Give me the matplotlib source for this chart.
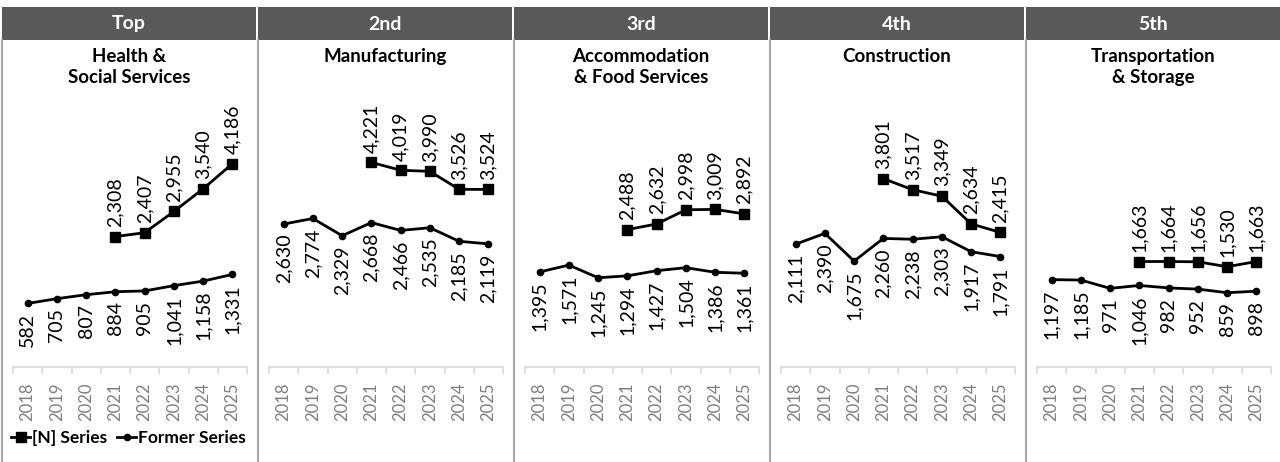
import numpy as np
import matplotlib.pyplot as plt
from matplotlib.patches import Rectangle
from matplotlib.lines import Line2D

plt.rcParams['font.family'] = ['Lato', 'DejaVu Sans']

years = ['2018', '2019', '2020', '2021', '2022', '2023', '2024', '2025']
ranks = ['Top', '2nd', '3rd', '4th', '5th']
industries = ['Health &\nSocial Services', 'Manufacturing', 'Accommodation\n& Food Services',
              'Construction', 'Transportation\n& Storage']

# former series, 2018-2025
former_health = [582, 705, 807, 884, 905, 1041, 1158, 1331]
former_manuf = [2630, 2774, 2329, 2668, 2466, 2535, 2185, 2119]
former_accom = [1395, 1571, 1245, 1294, 1427, 1504, 1386, 1361]
former_constr = [2111, 2390, 1675, 2260, 2238, 2303, 1917, 1791]
former_transp = [1197, 1185, 971, 1046, 982, 952, 859, 898]

# [N] series, 2021-2025
new_health = [2308, 2407, 2955, 3540, 4186]
new_manuf = [4221, 4019, 3990, 3526, 3524]
new_accom = [2488, 2632, 2998, 3009, 2892]
new_constr = [3801, 3517, 3349, 2634, 2415]
new_transp = [1663, 1664, 1656, 1530, 1663]

former_all = [former_health, former_manuf, former_accom, former_constr, former_transp]
new_all = [new_health, new_manuf, new_accom, new_constr, new_transp]

W, H = 1280, 462
fig = plt.figure(figsize=(W / 100, H / 100), dpi=100)

def fx(px):
    return px / W

def fy(py):
    return 1 - py / H

hdr_col = '#595959'
border_col = '#a6a6a6'
x = np.arange(len(years))
xn = x[3:]

for i in range(5):
    L = 2 + 256 * i
    # header bar
    fig.patches.append(Rectangle((fx(L), fy(40)), fx(254), 33 / H, transform=fig.transFigure,
                                 facecolor=hdr_col, edgecolor='none', zorder=0))
    fig.text(fx(L + 127), fy(24), ranks[i], color='white', fontsize=14, fontweight='bold',
             ha='center', va='center')
    # left border of panel
    fig.lines.append(Line2D([fx(L), fx(L)], [fy(40), fy(462)], transform=fig.transFigure,
                            color=border_col, lw=1.5))
    fig.text(fx(L + 127), fy(48), industries[i], fontsize=13.5, fontweight='bold',
             ha='center', va='top', linespacing=1.3)

    ax = fig.add_axes([fx(L + 11), fy(367), fx(234), 267 / H])
    ax.set_xlim(-0.5, 7.5)
    ax.set_ylim(-1058, 5831)
    ax.patch.set_alpha(0)
    for s in ['top', 'right', 'left']:
        ax.spines[s].set_visible(False)
    ax.spines['bottom'].set_color('#d9d9d9')
    ax.spines['bottom'].set_linewidth(1.2)
    ax.set_yticks([])
    ax.set_xticks(np.arange(-0.5, 8, 1), minor=False)
    ax.set_xticklabels([])
    ax.tick_params(axis='x', which='major', length=5, color='#d9d9d9', width=1.2)
    ax.set_xticks(x, minor=True)
    ax.set_xticklabels(years, minor=True, rotation=90, fontsize=12, color='#7f7f7f')
    ax.tick_params(axis='x', which='minor', length=0, pad=11)

    f = former_all[i]
    n = new_all[i]
    l1, = ax.plot(xn, n, color='black', lw=2, marker='s', markersize=7, label='[N] Series')
    l2, = ax.plot(x, f, color='black', lw=2, marker='o', markersize=4.5, label='Former Series')
    for xi, v in zip(x, f):
        ax.annotate(f'{v:,}', (xi, v), xytext=(0, -7), textcoords='offset points',
                    rotation=90, ha='center', va='top', fontsize=14)
    for xi, v in zip(xn, n):
        ax.annotate(f'{v:,}', (xi, v), xytext=(0, 7), textcoords='offset points',
                    rotation=90, ha='center', va='bottom', fontsize=14)

    if i == 0:
        fig.legend(handles=[l1, l2], loc='center left', bbox_to_anchor=(fx(11), fy(438)),
                   frameon=False, ncol=2, prop={'weight': 'bold', 'size': 12.5},
                   handlelength=1.1, handletextpad=0.1, columnspacing=0.6,
                   borderaxespad=0, borderpad=0)

fig.savefig('out.png', dpi=100)
